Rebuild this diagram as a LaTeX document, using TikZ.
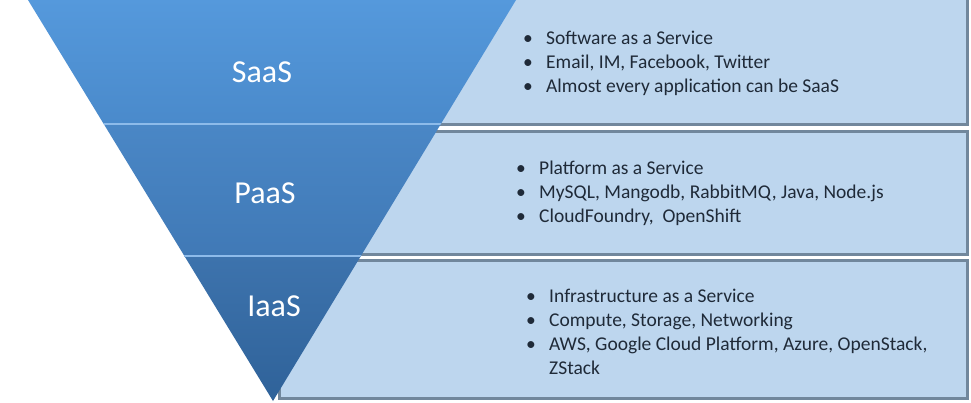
\documentclass[tikz,border=0pt]{standalone}
\usepackage{fontspec}
\setmainfont{Carlito}
\definecolor{panelfill}{HTML}{BDD6EE}
\definecolor{panelline}{HTML}{71879C}
\definecolor{txtcol}{HTML}{1F2A38}
\definecolor{sepcol}{HTML}{8DBBEA}
\definecolor{saasTop}{HTML}{5599DC}
\definecolor{saasBot}{HTML}{4A8ACB}
\definecolor{paasTop}{HTML}{4A87C6}
\definecolor{paasBot}{HTML}{4079B6}
\definecolor{iaasTop}{HTML}{3D73AD}
\definecolor{iaasBot}{HTML}{2F6299}
\begin{document}
\begin{tikzpicture}[x=1pt,y=-1pt,
  panel/.style={fill=panelfill, draw=panelline, line width=3pt},
  lbl/.style={text=white, font=\fontsize{32}{38}\selectfont, inner sep=0},
  txt/.style={anchor=base west, inner sep=0, text=txtcol, font=\fontsize{19.5}{24}\selectfont}]
\useasboundingbox (0,0) rectangle (971,402);
\fill[white] (0,0) rectangle (971,402);
% panels
\draw[panel] (300,-5) rectangle (967,124);
\draw[panel] (300,131) rectangle (967,254);
\draw[panel] (279,260) rectangle (967,398);
% triangle bands
\begin{scope}
  \clip (28,0) -- (516,0) -- (273,401) -- cycle;
  \shade[top color=saasTop, bottom color=saasBot] (0,-1) rectangle (560,124);
  \shade[top color=paasTop, bottom color=paasBot] (0,124) rectangle (560,256);
  \shade[top color=iaasTop, bottom color=iaasBot] (0,256) rectangle (560,402);
  \draw[sepcol, line width=1.6pt] (0,124) -- (560,124);
  \draw[sepcol, line width=1.6pt] (0,256) -- (560,256);
\end{scope}
% labels
\node[lbl] (saas) at (262,72) {SaaS};
\node[lbl] (paas) at (265,193) {PaaS};
\node[lbl] (iaas) at (274,306) {IaaS};
% texts
\newcommand\bitem[1]{\makebox[23pt][l]{\textbullet}#1}
\node[txt] (t1) at (523,44) {\begin{tabular}[t]{@{}l@{}}
\bitem{Software as a Service}\\
\bitem{Email, IM, Facebook, Twitter}\\
\bitem{Almost every application can be SaaS}
\end{tabular}};
\node[txt] (t2) at (516,174) {\begin{tabular}[t]{@{}l@{}}
\bitem{Platform as a Service}\\
\bitem{MySQL, Mangodb, RabbitMQ, Java, Node.js}\\
\bitem{CloudFoundry,\ \ OpenShift}
\end{tabular}};
\node[txt] (t3) at (526,302) {\begin{tabular}[t]{@{}l@{}}
\bitem{Infrastructure as a Service}\\
\bitem{Compute, Storage, Networking}\\
\bitem{AWS, Google Cloud Platform, Azure, OpenStack,}\\
\hspace*{23pt}ZStack
\end{tabular}};
\end{tikzpicture}
\end{document}
